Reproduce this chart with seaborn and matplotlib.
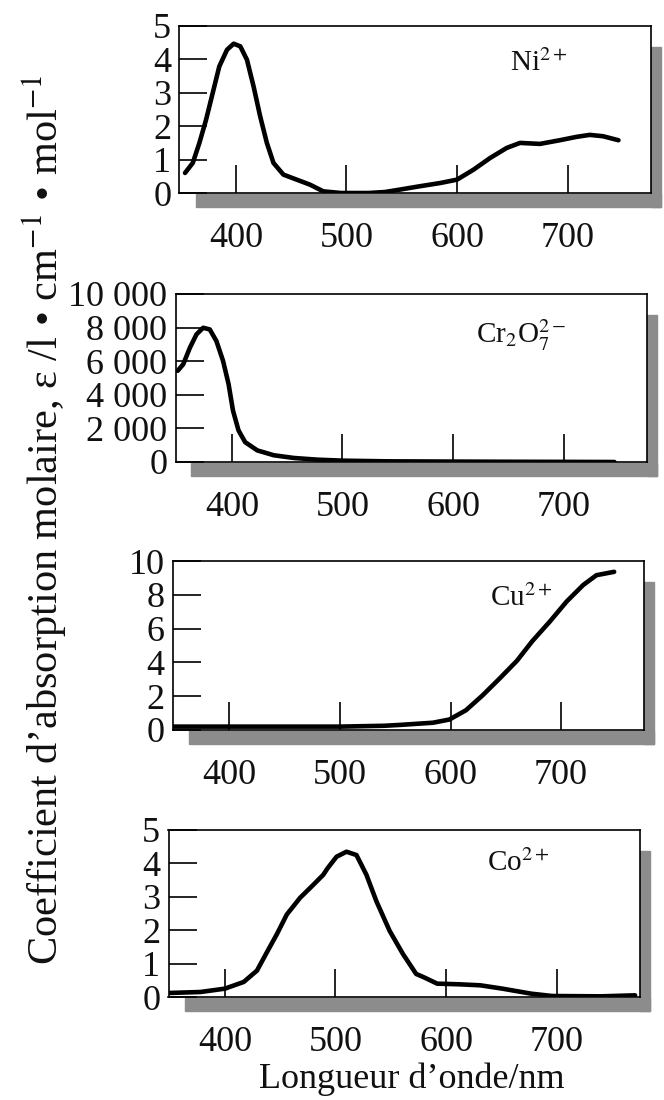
import numpy as np
import pandas as pd
import matplotlib
matplotlib.use("Agg")
import matplotlib.pyplot as plt
from matplotlib.patches import Rectangle
import seaborn as sns

# Spectra (wavelength in nm, epsilon)
ni_nm = [354, 361, 367, 373, 379, 385, 392, 398, 404, 410, 416, 422, 428, 434, 443, 455, 467, 479,
         495, 520, 535, 548, 566, 585, 600, 615, 630, 645, 657, 675, 693, 708, 720, 732, 746]
ni_eps = [0.6, 0.9, 1.5, 2.19, 2.99, 3.79, 4.29, 4.47, 4.39, 3.99, 3.19, 2.29, 1.5, 0.9, 0.55, 0.4, 0.25, 0.05,
          0.0, 0.0, 0.03, 0.1, 0.2, 0.3, 0.4, 0.7, 1.05, 1.35, 1.5, 1.47, 1.58, 1.68, 1.74, 1.7, 1.58]

cr_nm = [351, 356, 362, 368, 374, 380, 386, 392, 397, 401, 406, 412, 423, 438, 456, 477, 500, 540,
         600, 650, 700, 746]
cr_eps = [5430, 5820, 6800, 7600, 7990, 7890, 7200, 6020, 4640, 3060, 1880, 1180, 690, 400, 240, 140,
          80, 40, 25, 15, 8, 0]

cu_nm = [349, 400, 450, 500, 540, 554, 584, 599, 614, 629, 644, 660, 674, 690, 705, 720, 732, 748]
cu_eps = [0.2, 0.2, 0.2, 0.2, 0.25, 0.3, 0.43, 0.62, 1.17, 2.05, 3.02, 4.09, 5.26, 6.43, 7.6, 8.58, 9.16, 9.36]

co_nm = [349, 378, 400, 417, 429, 438, 447, 456, 468, 480, 489, 493, 501, 510, 519, 528, 537, 549,
         561, 573, 580, 592, 612, 631, 651, 677, 696, 740, 771]
co_eps = [0.12, 0.15, 0.25, 0.45, 0.79, 1.34, 1.88, 2.47, 2.97, 3.36, 3.66, 3.86, 4.2, 4.35, 4.25, 3.66,
          2.87, 1.98, 1.29, 0.69, 0.59, 0.4, 0.38, 0.35, 0.25, 0.1, 0.03, 0.02, 0.05]

ion_labels = [r"Ni$^{2+}$", r"Cr$_2$O$_7^{2-}$", r"Cu$^{2+}$", r"Co$^{2+}$"]
x_ticks = [400, 500, 600, 700]
ni_yticks = [0, 1, 2, 3, 4, 5]
cr_yticks = [0, 2000, 4000, 6000, 8000, 10000]
cr_yticklabels = ["0", "2 000", "4 000", "6 000", "8 000", "10 000"]
cu_yticks = [0, 2, 4, 6, 8, 10]
co_yticks = [0, 1, 2, 3, 4, 5]

sns.set_theme(style="white")
plt.rcParams["font.family"] = ["Liberation Serif", "DejaVu Serif"]
plt.rcParams["mathtext.fontset"] = "stix"

W, H = 664, 1100
fig = plt.figure(figsize=(W / 100, H / 100), dpi=100)

# panel frames in pixels: left, top, right, bottom
boxes = [(179.5, 26, 650.5, 193), (175.5, 294, 646.5, 462), (173, 561, 644, 730), (168.5, 830, 639.5, 997)]
label_pos = [(510, 63), (476, 335), (490, 598), (487, 863)]
panels = [
    (ni_nm, ni_eps, ni_yticks, None),
    (cr_nm, cr_eps, cr_yticks, cr_yticklabels),
    (cu_nm, cu_eps, cu_yticks, None),
    (co_nm, co_eps, co_yticks, None),
]
shade = "#8c8c8c"

for i, (xs, ys, yt, ytl) in enumerate(panels):
    l, t, r, b = boxes[i]
    # grey print shadow under and right of each frame
    fig.patches.append(Rectangle(((l + 16) / W, 1 - (b + 14) / H), (r + 10 - l - 16) / W, 13 / H,
                                 transform=fig.transFigure, color=shade, zorder=0))
    fig.patches.append(Rectangle((r / W, 1 - (b + 14) / H), 10 / W, (b + 14 - t - 21) / H,
                                 transform=fig.transFigure, color=shade, zorder=0))

    ax = fig.add_axes([l / W, 1 - b / H, (r - l) / W, (b - t) / H])
    ax.set_zorder(2)
    df = pd.DataFrame({"nm": xs, "eps": ys})
    sns.lineplot(data=df, x="nm", y="eps", ax=ax, color="black", lw=3.3,
                 solid_capstyle="round", solid_joinstyle="round")
    ax.set_xlim(349, 775)
    ax.set_ylim(yt[0], yt[-1])
    ax.set_xticks(x_ticks)
    ax.set_yticks(yt)
    if ytl is not None:
        ax.set_yticklabels(ytl)
    ax.tick_params(axis="both", direction="in", length=20, width=1.2, color="black",
                   labelsize=26, labelcolor="#111111", bottom=True, left=True)
    ax.tick_params(axis="y", pad=6)
    ax.tick_params(axis="x", pad=21)
    ax.set_xlabel("")
    ax.set_ylabel("")
    for s in ax.spines.values():
        s.set_color("black")
        s.set_linewidth(1.2)
    fig.text(label_pos[i][0] / W, 1 - label_pos[i][1] / H, ion_labels[i],
             fontsize=21, va="center", ha="left", color="#111111")

fig.text(412 / W, 1 - 1079 / H, "Longueur d\u2019onde/nm", fontsize=26, ha="center", va="center",
         color="#111111")
fig.text(45 / W, 1 - 520 / H,
         "Coefficient d\u2019absorption molaire, \u03b5 /l \u2022 cm$^{-1}$ \u2022 mol$^{-1}$",
         rotation=90, fontsize=30.5, ha="center", va="center", color="#111111")

fig.savefig("out.png", dpi=100)
